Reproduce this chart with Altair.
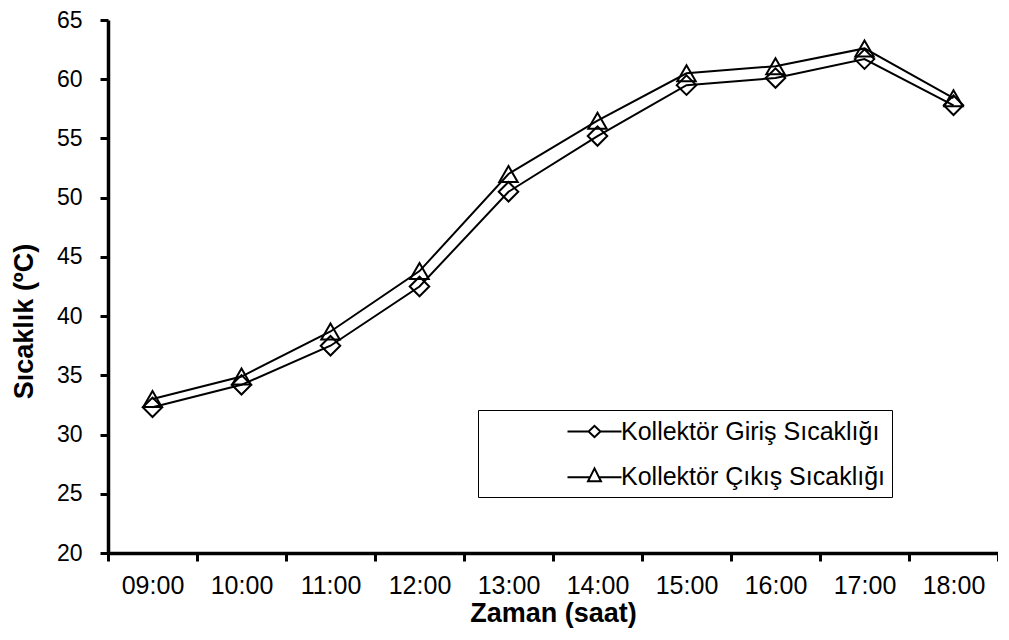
import altair as alt
import pandas as pd

times = ["09:00", "10:00", "11:00", "12:00", "13:00", "14:00", "15:00", "16:00", "17:00", "18:00"]
giris = [32.3, 34.2, 37.5, 42.5, 50.5, 55.2, 59.5, 60.1, 61.7, 57.8]
cikis = [33.0, 34.9, 38.7, 43.8, 52.0, 56.5, 60.5, 61.1, 62.6, 58.4]
series_names = ["Kollektör Giriş Sıcaklığı", "Kollektör Çıkış Sıcaklığı"]
y_ticks = [20, 25, 30, 35, 40, 45, 50, 55, 60, 65]

df = pd.DataFrame({
    "time": times * 2,
    "value": giris + cikis,
    "series": [series_names[0]] * len(times) + [series_names[1]] * len(times),
})

FONT = "Liberation Sans, Arial, sans-serif"

# legend symbols: line + marker
legend_paths = [
    "M-2,0 L-0.44,0 M0.44,0 L2,0 M-0.44,0 L0,-0.42 L0.44,0 L0,0.42 Z",
    "M-2,0.05 L-0.33,0.05 M0.33,0.05 L2,0.05 M0,-0.6 L0.48,0.35 L-0.48,0.35 Z",
]

axis_style = dict(
    grid=False,
    domainColor="black",
    domainWidth=3.5,
    domainOpacity=1,
    tickColor="black",
    tickWidth=3,
    tickOpacity=1,
    tickSize=8,
    labelColor="black",
    titleColor="black",
    labelFont=FONT,
    titleFont=FONT,
)

x_enc = alt.X(
    "time:N",
    sort=times,
    bandPosition=0.5,
    scale=alt.Scale(type="band", paddingInner=0, paddingOuter=0),
    axis=alt.Axis(
        title="Zaman (saat)",
        labelAngle=0,
        tickBand="extent",
        labelFontSize=25,
        labelPadding=12,
        titleFontSize=27,
        titleFontWeight="bold",
        titlePadding=2,
        **axis_style,
    ),
)
y_enc = alt.Y(
    "value:Q",
    scale=alt.Scale(domain=[20, 65], nice=False, zero=False),
    axis=alt.Axis(
        title="Sıcaklık (ºC)",
        values=y_ticks,
        labelFontSize=23,
        labelPadding=18,
        titleFontSize=27,
        titleFontWeight="bold",
        titlePadding=18,
        titleY=301,
        **axis_style,
    ),
)

base = alt.Chart(df).encode(x=x_enc, y=y_enc)

lines = base.mark_line(color="black", strokeWidth=2).encode(detail="series:N")

pts_g = base.transform_filter(alt.datum.series == series_names[0]).mark_point(
    shape="diamond", size=380, filled=False, color="black", strokeWidth=2, opacity=1
)
pts_c = base.transform_filter(alt.datum.series == series_names[1]).mark_point(
    shape="triangle-up", size=340, filled=False, color="black", strokeWidth=2, opacity=1
)

legend_layer = base.mark_point(opacity=0, color="black", filled=False).encode(
    shape=alt.Shape(
        "series:N",
        scale=alt.Scale(domain=series_names, range=legend_paths),
        legend=alt.Legend(
            orient="none",
            legendX=370,
            legendY=390,
            title=None,
            strokeColor="black",
            fillColor="white",
            padding=7,
            labelFont=FONT,
            labelFontSize=25,
            labelColor="black",
            labelOffset=12,
            labelLimit=500,
            symbolOffset=95,
            symbolSize=729,
            symbolStrokeColor="black",
            symbolStrokeWidth=2,
            symbolOpacity=1,
            rowPadding=17,
        ),
    )
)

chart = (
    alt.layer(lines, pts_g, pts_c, legend_layer)
    .properties(
        width=890,
        height=533,
        background="white",
        autosize=alt.AutoSizeParams(type="none"),
        padding={"left": 100, "top": 12, "right": 0, "bottom": 79},
    )
    .configure_view(stroke=None)
)

chart.save("out.html", embed_options={"renderer": "svg", "actions": False})
